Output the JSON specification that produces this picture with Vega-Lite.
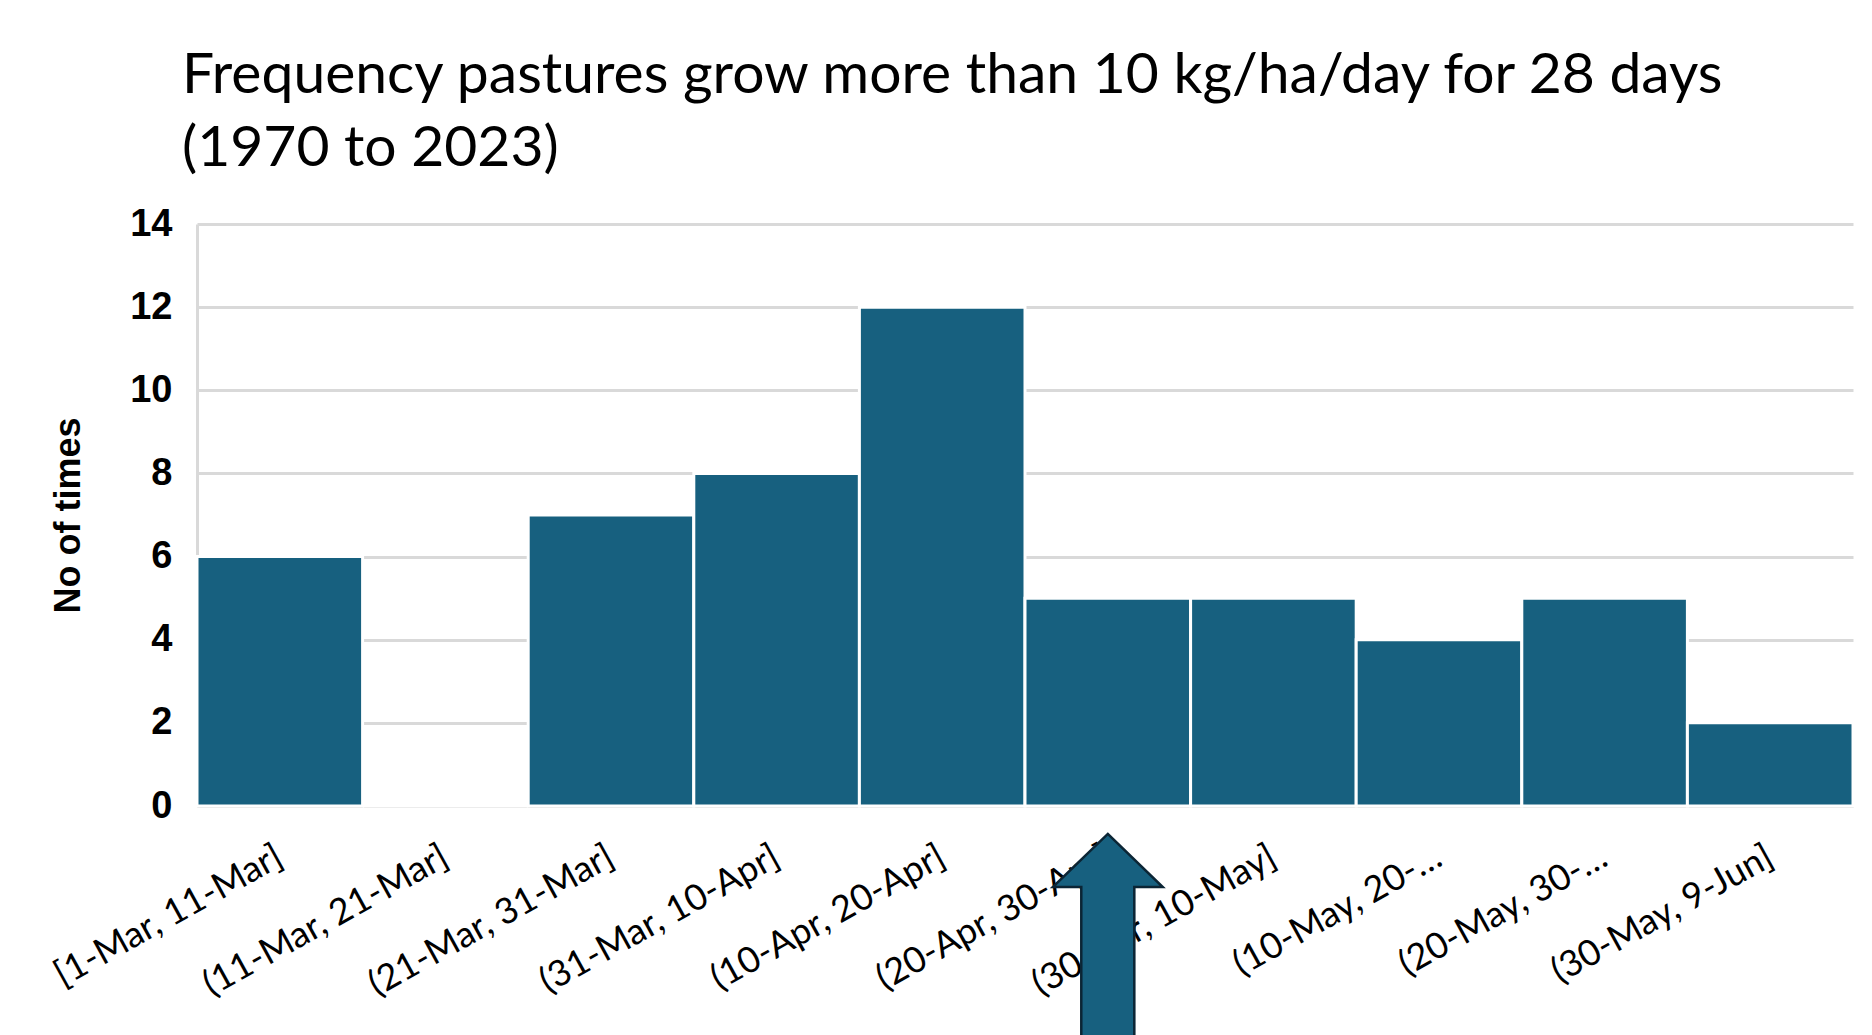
{
  "$schema": "https://vega.github.io/schema/vega-lite/v6.json",
  "autosize": "none",
  "width": 1656,
  "height": 582,
  "padding": {"left": 197, "top": 224, "right": 19, "bottom": 229},
  "background": "white",
  "title": {
    "text": ["Frequency pastures grow more than 10 kg/ha/day for 28 days", "(1970 to 2023)"],
    "anchor": "start",
    "frame": "group",
    "font": "Lato",
    "fontSize": 57,
    "fontWeight": "normal",
    "color": "#000000",
    "lineHeight": 73,
    "dx": -15,
    "offset": 27
  },
  "config": {
    "view": {"stroke": null},
    "axis": {"domainColor": "#d9d9d9", "domainWidth": 3, "gridColor": "#d9d9d9", "gridWidth": 3, "ticks": false, "tickSize": 0}
  },
  "datasets": {
    "bins": [
      {"interval": "[1-Mar, 11-Mar]", "count": 6},
      {"interval": "(11-Mar, 21-Mar]", "count": 0},
      {"interval": "(21-Mar, 31-Mar]", "count": 7},
      {"interval": "(31-Mar, 10-Apr]", "count": 8},
      {"interval": "(10-Apr, 20-Apr]", "count": 12},
      {"interval": "(20-Apr, 30-Apr]", "count": 5},
      {"interval": "(30-Apr, 10-May]", "count": 5},
      {"interval": "(10-May, 20-May]", "count": 4},
      {"interval": "(20-May, 30-May]", "count": 5},
      {"interval": "(30-May, 9-Jun]", "count": 2}
    ],
    "arrow": [
      {"interval": "(20-Apr, 30-Apr]", "pos": -3.464}
    ]
  },
  "layer": [
    {
      "data": {"name": "bins"},
      "mark": {"type": "bar", "color": "#17607F", "stroke": "#ffffff", "strokeWidth": 3},
      "encoding": {
        "x": {
          "field": "interval",
          "type": "nominal",
          "sort": null,
          "scale": {"paddingInner": 0, "paddingOuter": 0},
          "axis": {
            "title": null,
            "grid": false,
            "labelAngle": -29,
            "labelAlign": "right",
            "labelBaseline": "middle",
            "labelPadding": 48,
            "labelDx": 6,
            "labelFont": "Lato",
            "labelFontSize": 36,
            "labelColor": "#000000",
            "labelLimit": 400,
            "labelExpr": "indexof(['(10-May, 20-May]', '(20-May, 30-May]'], datum.value) >= 0 ? slice(datum.value, 0, 12) + '…' : datum.value"
          }
        },
        "y": {
          "field": "count",
          "type": "quantitative",
          "scale": {"domain": [0, 14], "nice": false},
          "axis": {
            "title": "No of times",
            "titleFont": "Liberation Sans",
            "titleFontSize": 36,
            "titleFontWeight": "bold",
            "titleColor": "#000000",
            "titlePadding": 42,
            "values": [0, 2, 4, 6, 8, 10, 12, 14],
            "labelFont": "Liberation Sans",
            "labelFontSize": 38,
            "labelFontWeight": "bold",
            "labelColor": "#000000",
            "labelPadding": 25
          }
        }
      }
    },
    {
      "data": {"name": "arrow"},
      "mark": {
        "type": "point",
        "shape": "M0,-0.967 L0.458,-0.525 L0.221,-0.525 L0.221,1 L-0.221,1 L-0.221,-0.525 L-0.458,-0.525 Z",
        "filled": true,
        "fill": "#17607F",
        "stroke": "#0b2535",
        "strokeWidth": 2.5,
        "opacity": 1,
        "size": 57600
      },
      "encoding": {
        "x": {"field": "interval", "type": "nominal", "sort": null},
        "y": {"field": "pos", "type": "quantitative", "scale": {"domain": [0, 14], "nice": false}}
      }
    }
  ]
}
